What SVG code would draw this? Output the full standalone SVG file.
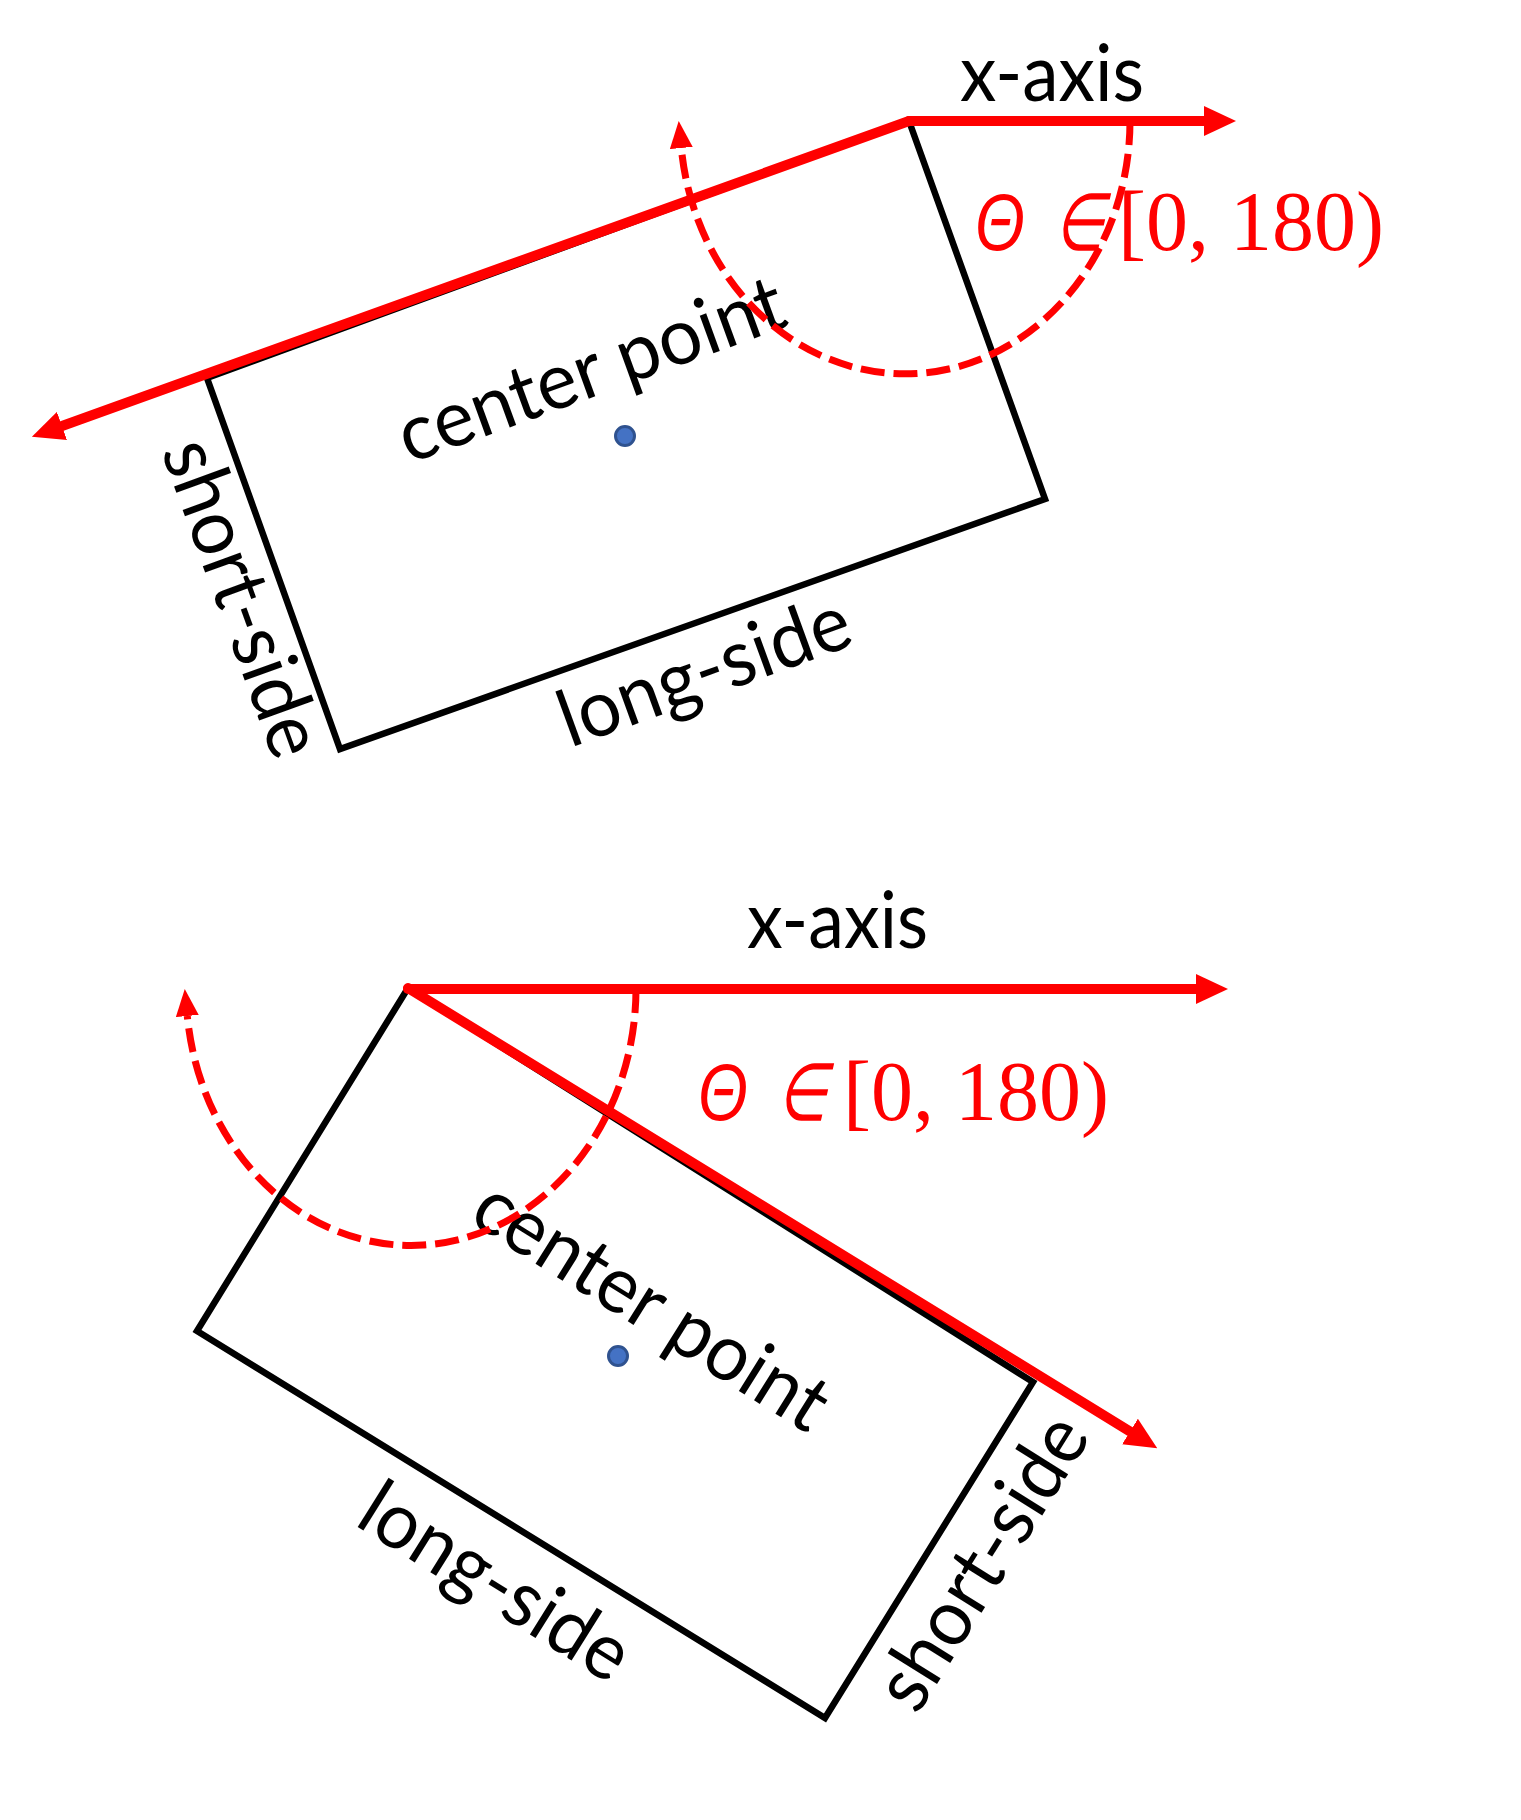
<svg xmlns="http://www.w3.org/2000/svg" width="1521" height="1820" viewBox="0 0 1521 1820">
<style>
.box{fill:none;stroke:#000;stroke-width:6.5;stroke-linejoin:miter}
.lbl{font-family:Lato,"Open Sans","Liberation Sans",sans-serif;font-size:79px;fill:#000}
.axis{fill:none;stroke:#FF0000;stroke-width:10;stroke-linecap:round}
.arc{fill:none;stroke:#FF0000;stroke-width:7;stroke-dasharray:24 9}
.dot{fill:#4472C4;stroke:#2F528F;stroke-width:3}
.th{font-family:"Liberation Sans","DejaVu Sans",sans-serif;font-style:italic;font-size:80px;fill:#FF0000}
.el{font-family:"DejaVu Sans",sans-serif;font-size:80px;fill:#FF0000}
.rng{font-family:"Liberation Serif","Times New Roman",serif;font-size:84px;fill:#FF0000}
</style>
<defs>
<marker id="ah" markerUnits="userSpaceOnUse" viewBox="0 0 32 30" markerWidth="32" markerHeight="30" refX="0" refY="15" orient="auto"><path d="M0,0 L32,15 L0,30 z" fill="#FF0000"/></marker>
<marker id="ahs" markerUnits="userSpaceOnUse" viewBox="0 0 27 23" markerWidth="27" markerHeight="23" refX="0" refY="11.5" orient="auto"><path d="M0,0 L27,11.5 L0,23 z" fill="#FF0000"/></marker>
</defs>
<rect width="1521" height="1820" fill="#fff"/>

<g id="top-box">
<polygon class="box" points="909,121 1045,499 340,749 207,378"/>
<text class="lbl" transform="translate(409,464) rotate(-20)" textLength="406" lengthAdjust="spacingAndGlyphs">center point</text>
<text class="lbl" transform="translate(161,451) rotate(70)" textLength="332" lengthAdjust="spacingAndGlyphs">short-side</text>
<text class="lbl" transform="translate(570,748) rotate(-20)" textLength="305" lengthAdjust="spacingAndGlyphs">long-side</text>
<circle class="dot" cx="625" cy="436" r="9.5"/>
</g>
<g id="top-axis-label">
<text class="lbl" x="960" y="101" textLength="184" lengthAdjust="spacingAndGlyphs">x-axis</text>
</g>
<g id="top-angle-label">
<text class="th" x="975" y="250" textLength="50" lengthAdjust="spacingAndGlyphs">Θ</text>
<text class="el" transform="translate(1053,250) skewX(-13)" textLength="50" lengthAdjust="spacingAndGlyphs">∈</text>
<text class="rng" x="1118" y="250">[0, 180)</text>
</g>

<g id="bottom-box">
<polygon class="box" points="408,988 1033,1382 825,1718 197,1331"/>
<text class="lbl" transform="translate(467,1221) rotate(32)" textLength="402" lengthAdjust="spacingAndGlyphs">center point</text>
<text class="lbl" transform="translate(353,1524) rotate(32)" textLength="303" lengthAdjust="spacingAndGlyphs">long-side</text>
<text class="lbl" transform="translate(917,1716) rotate(-58)" textLength="330" lengthAdjust="spacingAndGlyphs">short-side</text>
<circle class="dot" cx="618" cy="1356" r="9.5"/>
</g>
<g id="bottom-axis-label">
<text class="lbl" x="747" y="948" textLength="181" lengthAdjust="spacingAndGlyphs">x-axis</text>
</g>
<g id="bottom-angle-label">
<text class="th" x="698" y="1120" textLength="50" lengthAdjust="spacingAndGlyphs">Θ</text>
<text class="el" transform="translate(776,1120) skewX(-13)" textLength="50" lengthAdjust="spacingAndGlyphs">∈</text>
<text class="rng" x="843" y="1120">[0, 180)</text>
</g>

<g id="connectors">
<line class="axis" x1="909" y1="121" x2="1204" y2="121" marker-end="url(#ah)"/>
<line class="axis" x1="909" y1="121" x2="62" y2="426" marker-end="url(#ah)"/>
<path class="arc" d="M1130,121 A225,253 0 0 1 681.3,148" marker-end="url(#ahs)"/>
<line class="axis" x1="408" y1="989" x2="1196" y2="989" marker-end="url(#ah)"/>
<line class="axis" x1="408" y1="988" x2="1130" y2="1431.5" marker-end="url(#ah)"/>
<path class="arc" d="M636,989 A225,257 0 0 1 187.3,1016" marker-end="url(#ahs)"/>
</g>
</svg>
